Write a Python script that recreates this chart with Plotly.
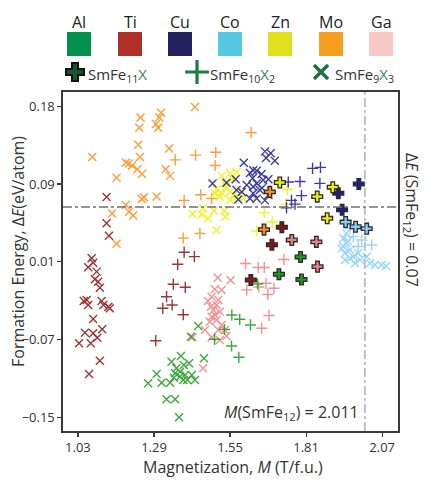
import plotly.graph_objects as go

# ---------------- data (M in T/f.u., dE in eV/atom) ----------------
ELEMENTS = ["Al", "Ti", "Cu", "Co", "Zn", "Mo", "Ga"]

Al9_M = [1.441,1.416,1.382,1.350,1.392,1.410,1.299,1.270,1.316,1.345,1.362,1.379,1.396,1.390,1.419,1.430,1.461,1.367,1.333,1.362,1.376,1.358,1.404,1.379]
Al9_E = [-0.0563,-0.0676,-0.0881,-0.0941,-0.0976,-0.0958,-0.1072,-0.1171,-0.1164,-0.1164,-0.1064,-0.1048,-0.1083,-0.1136,-0.1083,-0.1136,-0.0905,-0.1011,-0.134,-0.134,-0.1531,-0.1111,-0.1136,-0.1101]
Al10_M = [1.556,1.583,1.620,1.531,1.497,1.555,1.580,1.644]
Al10_E = [-0.0446,-0.0492,-0.0552,-0.060,-0.0704,-0.0775,-0.0895,-0.0117]
Al11_M = [1.791,1.717,1.794]
Al11_E = [0.017,-0.0014,-0.007]

Ti9_M = [1.128,1.128,1.136,1.077,1.065,1.082,1.094,1.088,1.099,1.105,1.060,1.065,1.111,1.117,1.134,1.139,1.082,1.054,1.082,1.113,1.096,1.034,1.074,1.105,1.068,1.050]
Ti9_E = [0.0806,0.0527,0.0395,0.0156,0.006,0.0109,0.0014,-0.0067,-0.0093,-0.0156,-0.0287,-0.034,-0.0297,-0.034,-0.0358,-0.0375,-0.0488,-0.0634,-0.064,-0.0598,-0.0687,-0.0746,-0.0746,-0.0931,-0.1072,-0.0297]
Ti10_M = [1.393,1.428,1.371,1.356,1.397,1.333,1.352,1.320,1.390,1.296]
Ti10_E = [0.022,0.0173,0.0092,-0.012,-0.0152,-0.0252,-0.034,-0.0375,-0.0443,-0.0719]
Ti11_M = [1.727,1.693,1.621]
Ti11_E = [0.0485,0.030,-0.0075]

Cu9_M = [1.669,1.689,1.673,1.703,1.597,1.641,1.618,1.658,1.681,1.663,1.538,1.490,1.569,1.607,1.629,1.590,1.578,1.618,1.641,1.669,1.681,1.652,1.629,1.629,1.627,1.641,1.572,1.659]
Cu9_E = [0.129,0.127,0.122,0.119,0.117,0.1085,0.106,0.105,0.0994,0.0986,0.0958,0.095,0.0994,0.0933,0.0915,0.086,0.078,0.079,0.079,0.077,0.0827,0.088,0.0845,0.109,0.1004,0.095,0.088,0.090]
Cu10_M = [1.832,1.859,1.789,1.749,1.857,1.794,1.760,1.772,1.743]
Cu10_E = [0.111,0.112,0.097,0.0965,0.095,0.082,0.077,0.073,0.069]
Cu11_M = [1.920,1.990,1.933]
Cu11_E = [0.0845,0.0944,0.067]

Co9_M = [1.937,1.948,1.931,1.943,1.960,1.971,1.988,1.994,2.017,2.028,2.045,2.068,1.960,1.948,1.943,2.083,1.977,1.937,1.953]
Co9_E = [0.0368,0.0315,0.026,0.021,0.0244,0.0173,0.021,0.0138,0.0173,0.0103,0.0085,0.0085,0.0156,0.042,0.0138,0.0074,0.0103,0.028,0.034]
Co10_M = [1.960,1.971,2.000,2.034,1.988]
Co10_E = [0.047,0.0385,0.035,0.0297,0.028]
Co11_M = [1.945,1.979,2.017]
Co11_E = [0.054,0.049,0.047]

Zn9_M = [1.521,1.550,1.572,1.559,1.532,1.504,1.521,1.550,1.575,1.595,1.550,1.515,1.498,1.422,1.453,1.475,1.495,1.531,1.534,1.458,1.504,1.536,1.561,1.590]
Zn9_E = [0.103,0.1055,0.107,0.0994,0.095,0.0888,0.0845,0.086,0.081,0.079,0.0774,0.081,0.0845,0.0626,0.062,0.058,0.066,0.066,0.0597,0.0686,0.0453,0.091,0.0827,0.086]
Zn10_M = [1.667,1.694,1.641,1.741,1.746]
Zn10_E = [0.064,0.054,0.0445,0.073,0.089]
Zn11_M = [1.720,1.901,1.848,1.882]
Zn11_E = [0.096,0.091,0.081,0.058]

Mo9_M = [1.430,1.314,1.308,1.297,1.304,1.244,1.240,1.236,1.242,1.079,1.194,1.204,1.215,1.233,1.249,1.342,1.330,1.345,1.162,1.248,1.256,1.299,1.194,1.147,1.205,1.219,1.162]
Mo9_E = [0.176,0.170,0.165,0.158,0.154,0.165,0.154,0.136,0.123,0.123,0.117,0.116,0.114,0.110,0.105,0.132,0.110,0.103,0.101,0.0785,0.080,0.081,0.072,0.063,0.065,0.061,0.031]
Mo10_M = [1.622,1.432,1.501,1.499,1.363,1.393,1.450,1.487,1.447,1.390]
Mo10_E = [0.149,0.125,0.128,0.114,0.120,0.077,0.083,0.079,0.042,0.037]
Mo11_M = [1.686,1.666]
Mo11_E = [0.086,0.046]

Ga9_M = [1.508,1.552,1.498,1.521,1.487,1.510,1.504,1.493,1.515,1.498,1.504,1.521,1.481,1.464,1.487,1.510,1.538,1.515,1.458,1.422,1.532,1.485,1.487,1.474]
Ga9_E = [-0.005,-0.0078,-0.0173,-0.018,-0.0252,-0.0287,-0.034,-0.0393,-0.0411,-0.0446,-0.0499,-0.0552,-0.0517,-0.0605,-0.0683,-0.0605,-0.0669,-0.0711,-0.1011,-0.0683,-0.0605,-0.0358,-0.0464,-0.0297]
Ga10_M = [1.603,1.646,1.667,1.734,1.607,1.648,1.673,1.700,1.679,1.683,1.658]
Ga10_E = [0.010,0.0058,0.0058,0.0143,-0.018,-0.0149,-0.011,-0.0163,-0.0228,-0.0451,-0.0587]
Ga11_M = [1.761,1.845,1.849]
Ga11_E = [0.035,0.033,0.0067]

X_TICKS = [1.03, 1.29, 1.55, 1.81, 2.07]
X_TICK_TEXT = ["1.03", "1.29", "1.55", "1.81", "2.07"]
Y_TICKS = [-0.1531, -0.0706, 0.0119, 0.0944, 0.1769]
Y_TICK_TEXT = ["\u22120.15", "\u22120.07", "0.01", "0.09", "0.18"]
E_REF = 0.07     # dE(SmFe12)
M_REF = 2.011    # M(SmFe12)

# ---------------- styling ----------------
W, H = 425, 480
PL, PR, PT, PB = 63, 398, 92, 431   # plot box in pixels
FONT = "Open Sans"
TXT = "#333333"

PT_COLORS = {"Al": "#1E9A1E", "Ti": "#8B1414", "Cu": "#1C1C8E", "Co": "#87CEFA",
             "Zn": "#F0F000", "Mo": "#FF8C1A", "Ga": "#F08080"}
SW_COLORS = {"Al": "#00914A", "Ti": "#B03027", "Cu": "#252160", "Co": "#55C8E3",
             "Zn": "#E0E01E", "Mo": "#F7A020", "Ga": "#F8C8C4"}

DATA = {
    "Al": (Al9_M, Al9_E, Al10_M, Al10_E, Al11_M, Al11_E),
    "Ti": (Ti9_M, Ti9_E, Ti10_M, Ti10_E, Ti11_M, Ti11_E),
    "Cu": (Cu9_M, Cu9_E, Cu10_M, Cu10_E, Cu11_M, Cu11_E),
    "Co": (Co9_M, Co9_E, Co10_M, Co10_E, Co11_M, Co11_E),
    "Zn": (Zn9_M, Zn9_E, Zn10_M, Zn10_E, Zn11_M, Zn11_E),
    "Mo": (Mo9_M, Mo9_E, Mo10_M, Mo10_E, Mo11_M, Mo11_E),
    "Ga": (Ga9_M, Ga9_E, Ga10_M, Ga10_E, Ga11_M, Ga11_E),
}

fig = go.Figure()

# SmFe9X3 (x) and SmFe10X2 (thin +) first, SmFe11X (thick +) on top
for el in ["Mo", "Ti", "Ga", "Al", "Zn", "Cu", "Co"]:
    m9, e9, m10, e10, m11, e11 = DATA[el]
    c = PT_COLORS[el]
    fig.add_trace(go.Scatter(x=m9, y=e9, mode="markers", showlegend=False, opacity=0.85,
                             hoverinfo="skip",
                             marker=dict(symbol="x-thin", size=8, line=dict(color=c, width=1.4))))
    fig.add_trace(go.Scatter(x=m10, y=e10, mode="markers", showlegend=False, opacity=0.85,
                             hoverinfo="skip",
                             marker=dict(symbol="cross-thin", size=8, line=dict(color=c, width=1.4))))
for el in ELEMENTS:
    m9, e9, m10, e10, m11, e11 = DATA[el]
    fig.add_trace(go.Scatter(x=m11, y=e11, mode="markers", showlegend=False, hoverinfo="skip",
                             marker=dict(symbol="cross", size=9, color=PT_COLORS[el],
                                         line=dict(color="#2a2a2a", width=1.3))))

# reference lines
fig.add_shape(type="line", xref="x domain", yref="y", x0=0, x1=1, y0=E_REF, y1=E_REF,
              line=dict(color="#707070", width=1.6, dash="dashdot"))
fig.add_shape(type="line", xref="x", yref="y domain", x0=M_REF, x1=M_REF, y0=0, y1=1,
              line=dict(color="#8a8a8a", width=1, dash="dashdot"))

# ---------------- legend (figure pixel overlay axis) ----------------
SW_X = [79, 130, 180, 230, 280, 331, 381]
for el, cx in zip(ELEMENTS, SW_X):
    fig.add_shape(type="rect", xref="x2", yref="y2", x0=cx - 12, x1=cx + 12, y0=32, y1=56,
                  fillcolor=SW_COLORS[el], line=dict(width=0))
    fig.add_annotation(xref="x2", yref="y2", x=cx, y=22, text=el, showarrow=False,
                       font=dict(family=FONT, size=16, color="#222222"))

LEG_GREEN = "#1E6E3E"
fig.add_trace(go.Scatter(x=[75], y=[72], xaxis="x2", yaxis="y2", mode="markers", showlegend=False,
                         hoverinfo="skip",
                         marker=dict(symbol="cross", size=15, color="#1B5530",
                                     line=dict(color="#111111", width=2))))
fig.add_trace(go.Scatter(x=[197], y=[72], xaxis="x2", yaxis="y2", mode="markers", showlegend=False,
                         hoverinfo="skip",
                         marker=dict(symbol="cross-thin", size=17, line=dict(color="#1E7B45", width=3.2))))
fig.add_trace(go.Scatter(x=[321], y=[72], xaxis="x2", yaxis="y2", mode="markers", showlegend=False,
                         hoverinfo="skip",
                         marker=dict(symbol="x-thin", size=14, line=dict(color=LEG_GREEN, width=3.4))))
XG = "<span style='color:#2E8B57'>X</span>"
for tx, lab in [(86, "SmFe<sub>11</sub>" + XG),
                (208, "SmFe<sub>10</sub>" + XG + "<sub>2</sub>"),
                (333, "SmFe<sub>9</sub>" + XG + "<sub>3</sub>")]:
    fig.add_annotation(xref="x2", yref="y2", x=tx, y=75, text=lab, showarrow=False,
                       xanchor="left", yanchor="middle",
                       font=dict(family=FONT, size=15, color=TXT))

# axis titles and in-plot texts
fig.add_annotation(xref="x2", yref="y2", x=(PL + PR) / 2 + 2, y=467,
                   text="Magnetization, <i>M</i> (T/f.u.)", showarrow=False,
                   font=dict(family=FONT, size=16, color=TXT))
fig.add_annotation(xref="x2", yref="y2", x=18, y=252, textangle=-90,
                   text="Formation Energy, Δ<i>E</i>(eV/atom)", showarrow=False,
                   font=dict(family=FONT, size=16, color=TXT))
fig.add_annotation(xref="x2", yref="y2", x=412, y=220, textangle=90,
                   text="Δ<i>E</i> (SmFe<sub>12</sub>) = 0.07", showarrow=False,
                   font=dict(family=FONT, size=16, color=TXT))
fig.add_annotation(xref="x", yref="y", x=M_REF, y=-0.148, xanchor="right", xshift=-4,
                   text="<i>M</i>(SmFe<sub>12</sub>) = 2.011", showarrow=False,
                   font=dict(family=FONT, size=16, color=TXT))

axis_common = dict(showgrid=False, zeroline=False, showline=True, linecolor="#3a3a3a",
                   linewidth=1.6, mirror=True, ticks="outside", ticklen=4, tickwidth=1.2,
                   tickcolor="#3a3a3a", tickfont=dict(family=FONT, size=13, color=TXT))

fig.update_layout(
    width=W, height=H, margin=dict(l=0, r=0, t=0, b=0),
    paper_bgcolor="white", plot_bgcolor="rgba(0,0,0,0)", hovermode=False,
    xaxis=dict(domain=[PL / W, PR / W], range=[0.979, 2.124], tickvals=X_TICKS,
               ticktext=X_TICK_TEXT, **axis_common),
    yaxis=dict(domain=[(H - PB) / H, (H - PT) / H], range=[-0.1677, 0.192], tickvals=Y_TICKS,
               ticktext=Y_TICK_TEXT, **axis_common),
    xaxis2=dict(domain=[0, 1], range=[0, W], visible=False, anchor="y2", fixedrange=True),
    yaxis2=dict(domain=[0, 1], range=[H, 0], visible=False, anchor="x2", fixedrange=True),
    font=dict(family=FONT, color=TXT),
)

fig.write_html("out.html", config={"displayModeBar": False, "staticPlot": True},
               post_script="document.body.style.margin='0';document.body.style.overflow='hidden';")
